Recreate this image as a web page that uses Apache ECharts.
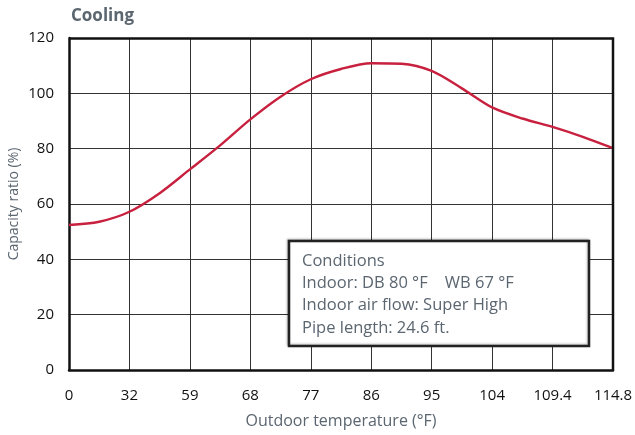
<!DOCTYPE html>
<html>
<head>
<meta charset="utf-8">
<script src="https://cdn.jsdelivr.net/npm/echarts@6/dist/echarts.min.js"></script>
<style>
  html, body { margin: 0; padding: 0; background: #fff; }
  #chart { width: 635px; height: 435px; }
</style>
</head>
<body>
<div id="chart"></div>
<script>
// outdoor temperature (°F) tick labels, evenly spaced on the chart
const temps = ['0', '32', '59', '68', '77', '86', '95', '104', '109.4', '114.8']
// positions along the axis (tick index), read at each tick and half-way between
const xPos = [0, 0.5, 1, 1.5, 2, 2.5, 3, 3.5, 4, 4.5, 5, 5.5, 6, 6.5, 7, 7.5, 8, 8.5, 9]
// capacity ratio (%)
const capacity = [52.4, 53.6, 57.2, 63.9, 72.5, 81.2, 90.6, 98.8, 105.1, 108.8,
  110.9, 110.7, 108.1, 101.8, 94.9, 90.9, 87.9, 84.3, 80.2]
const conditions = [
  'Conditions',
  'Indoor: DB 80 °F    WB 67 °F',
  'Indoor air flow: Super High',
  'Pipe length: 24.6 ft.'
]

const font = '"Open Sans", sans-serif'
const chart = echarts.init(document.getElementById('chart'))

const option = {
  animation: false,
  title: {
    text: 'Cooling',
    left: 66,
    top: 3,
    textStyle: { fontFamily: font, fontSize: 17, fontWeight: 'bold', color: '#5b6670' }
  },
  grid: { left: 69, right: 22, top: 38, bottom: 65, outerBoundsMode: 'none' },
  xAxis: {
    type: 'value',
    min: 0,
    max: 9,
    interval: 1,
    name: 'Outdoor temperature (°F)',
    nameLocation: 'middle',
    nameGap: 43,
    nameMoveOverlap: false,
    nameTextStyle: { fontFamily: font, fontSize: 16, color: '#5b6670' },
    axisLine: { lineStyle: { color: '#111', width: 2.5 } },
    axisTick: { show: false },
    axisLabel: {
      fontFamily: font, fontSize: 15, color: '#111', margin: 18,
      formatter: (v) => temps[v]
    },
    splitLine: { show: true, lineStyle: { color: '#333', width: 1 } }
  },
  yAxis: {
    type: 'value',
    min: 0,
    max: 120,
    interval: 20,
    name: 'Capacity ratio (%)',
    nameLocation: 'middle',
    nameGap: 48,
    nameMoveOverlap: false,
    nameTextStyle: { fontFamily: font, fontSize: 14, color: '#5b6670' },
    axisLine: { show: true, lineStyle: { color: '#111', width: 2.5 } },
    axisTick: { show: false },
    axisLabel: { fontFamily: font, fontSize: 15, color: '#111', margin: 15 },
    splitLine: { lineStyle: { color: '#333', width: 1 } }
  },
  series: [
    {
      type: 'line',
      data: xPos.map((x, i) => [x, capacity[i]]),
      smooth: 0.3,
      symbol: 'none',
      lineStyle: { color: '#c8213f', width: 2.4 },
      z: 3
    }
  ],
  graphic: [
    // top and right frame lines
    {
      type: 'polyline',
      shape: { points: [[69, 38.5], [613, 38.5], [613, 370]] },
      style: { stroke: '#111', lineWidth: 2.5, fill: null },
      z: 10
    },
    {
      type: 'rect',
      shape: { x: 289, y: 241, width: 300, height: 105 },
      style: {
        fill: '#fff',
        stroke: '#222',
        lineWidth: 2.5,
        shadowColor: 'rgba(0,0,0,0.25)',
        shadowBlur: 2,
        shadowOffsetX: -1,
        shadowOffsetY: -1
      },
      z: 20
    },
    {
      type: 'text',
      left: 302,
      top: 250,
      style: {
        text: conditions.join('\n'),
        fontFamily: font,
        fontSize: 16.5,
        lineHeight: 22.3,
        fill: '#5b6670'
      },
      z: 21
    }
  ]
}

chart.setOption(option)
</script>
</body>
</html>
